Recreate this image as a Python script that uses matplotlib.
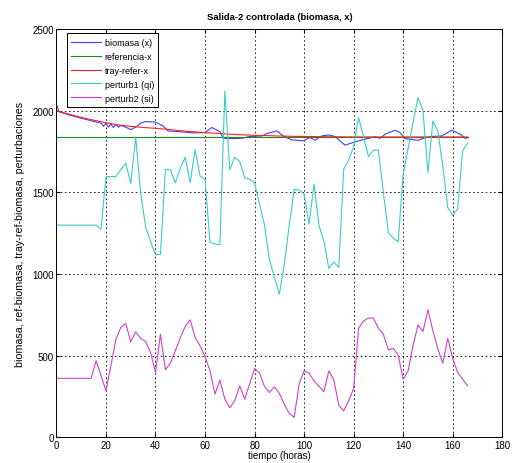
import numpy as np
import matplotlib.pyplot as plt

plt.rcParams['font.family'] = ['Liberation Sans', 'DejaVu Sans']

# perturbaciones, muestreadas cada 2 horas
t_pert = list(range(0, 168, 2))
perturb1 = [1300, 1300, 1300, 1300, 1300, 1300, 1300, 1300, 1300, 1275,
            1596, 1598, 1598, 1640, 1680, 1555, 1840, 1500, 1290, 1200,
            1120, 1120, 1640, 1640, 1560, 1650, 1715, 1560, 1765, 1600,
            1580, 1195, 1185, 1180, 2120, 1640, 1715, 1690, 1590, 1582,
            1560, 1430, 1300, 1090, 980, 877, 1060, 1300, 1520, 1515,
            1490, 1306, 1551, 1300, 1200, 1035, 1075, 1041, 1643, 1700,
            1780, 1960, 1840, 1720, 1760, 1759, 1500, 1255, 1220, 1198,
            1612, 1770, 1930, 2081, 2000, 1622, 1938, 1877, 1663, 1408,
            1361, 1398, 1755, 1802]
perturb2 = [362, 362, 362, 362, 362, 362, 362, 362, 470, 380,
            286, 440, 600, 674, 698, 586, 647, 606, 588, 521,
            398, 633, 414, 455, 531, 610, 680, 720, 613, 561,
            496, 408, 266, 351, 235, 182, 225, 316, 235, 327,
            423, 395, 313, 276, 310, 270, 204, 147, 123, 327,
            408, 394, 347, 313, 280, 408, 353, 198, 163, 225,
            300, 668, 714, 731, 731, 668, 633, 537, 545, 504,
            357, 408, 565, 688, 649, 782, 653, 541, 455, 606,
            484, 398, 357, 316]

# biomasa (x)
t_bio = [0, 1, 5, 10, 15, 18, 19, 20, 21, 22, 23, 24, 25, 26, 28, 30, 32, 34,
         36, 40, 43, 45, 50, 55, 60, 62.7, 66, 67.4, 71, 75, 78, 83, 85, 89,
         91.6, 95, 99.7, 102.4, 104.4, 107.1, 109.8, 112.5, 116.5, 120.6,
         124.6, 128.6, 130.7, 132.7, 136.7, 138.7, 140.7, 146, 148.8, 151.5,
         155.6, 159.6, 163, 165, 166]
biomasa = [2040, 1995, 1975, 1955, 1935, 1925, 1905, 1925, 1900, 1920, 1898,
           1915, 1900, 1910, 1900, 1885, 1900, 1925, 1934, 1931, 1908, 1877,
           1872, 1865, 1867, 1898, 1873, 1832, 1830, 1832, 1843, 1846, 1861,
           1877, 1846, 1822, 1816, 1837, 1820, 1846, 1852, 1843, 1790, 1810,
           1826, 1841, 1832, 1857, 1881, 1867, 1830, 1820, 1835, 1843, 1846,
           1881, 1857, 1832, 1835]

# referencia y trayectoria de referencia
t_ref = [0, 166]
referencia = [1840, 1840]
t_tray = [0, 5, 10, 15, 20, 25, 30, 35, 40, 45, 50, 55, 60, 65, 70, 75, 80,
          85, 90, 95, 100, 105, 110, 115, 120, 166]
tray = [2000, 1980, 1960, 1943, 1927, 1914, 1905, 1898, 1893, 1886, 1878,
        1872, 1866, 1862, 1857, 1853, 1850, 1848, 1846, 1844, 1843, 1842,
        1841, 1841, 1840, 1840]

fig = plt.figure(figsize=(5.13, 4.64), dpi=100)
ax = fig.add_axes([0.110, 0.055, 0.869, 0.880])

ax.plot(t_bio, biomasa, color='#4040ff', lw=0.8, label='biomasa (x)')
ax.plot(t_ref, referencia, color='#1a8a1a', lw=0.8, label='referencia-x')
ax.plot(t_tray, tray, color='#ff2020', lw=0.8, label='tray-refer-x')
ax.plot(t_pert, perturb1, color='#38cccc', lw=0.8, label='perturb1 (qi)')
ax.plot(t_pert, perturb2, color='#d040d0', lw=0.8, label='perturb2 (si)')

ax.set_xlim(0, 180)
ax.set_ylim(0, 2500)
ax.set_xticks(np.arange(0, 181, 20))
ax.set_yticks(np.arange(0, 2501, 500))
ax.grid(True, color='black', linestyle=(0, (2, 3)), linewidth=0.6)
ax.tick_params(direction='in', labelsize=7, length=3, pad=2, top=True,
               right=True, labeltop=False, labelright=False)
for s in ax.spines.values():
    s.set_linewidth(0.7)

ax.set_title('Salida-2 controlada (biomasa, x)', fontsize=6.8,
             fontweight='bold', pad=7)
ax.set_xlabel('tiempo (horas)', fontsize=7, labelpad=0)
ax.set_ylabel('biomasa, ref-biomasa, tray-ref-biomasa, perturbaciones',
              fontsize=7.7, labelpad=5)

leg = ax.legend(loc='upper left', bbox_to_anchor=(0.023, 0.99),
                borderaxespad=0, fontsize=6.5, fancybox=False,
                framealpha=1, edgecolor='black', handlelength=3.3,
                handletextpad=0.4, labelspacing=0.55, borderpad=0.5)
leg.get_frame().set_linewidth(0.7)

fig.savefig('out.png', dpi=100)
